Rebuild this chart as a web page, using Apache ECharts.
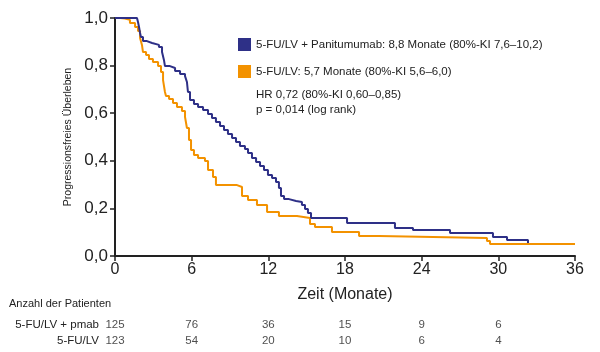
<!DOCTYPE html>
<html>
<head>
<meta charset="utf-8" />
<title>PFS</title>
<script src="https://cdn.jsdelivr.net/npm/echarts@6/dist/echarts.min.js"></script>
<style>
  html, body { margin: 0; padding: 0; background: #fff; }
</style>
</head>
<body>
<div id="main" style="width: 600px;height:352px;"></div>
<script type="text/javascript">
// Kaplan-Meier Stufen: [Monat, Überlebensrate nach dem Schritt]
var pmabSteps = [
  [0, 1.0], [1.72, 0.994], [1.80, 0.983], [1.88, 0.962], [1.96, 0.937], [2.03, 0.920],
  [2.19, 0.903], [2.50, 0.895], [2.90, 0.887], [3.44, 0.878], [3.68, 0.857], [3.83, 0.824],
  [3.91, 0.798], [4.30, 0.790], [4.70, 0.777], [5.09, 0.765], [5.48, 0.756], [5.63, 0.731],
  [5.71, 0.689], [5.87, 0.655], [6.18, 0.639], [6.50, 0.626], [6.89, 0.613], [7.28, 0.597],
  [7.59, 0.580], [7.90, 0.563], [8.22, 0.546], [8.53, 0.529], [8.84, 0.513], [9.16, 0.496],
  [9.47, 0.479], [9.78, 0.462], [10.17, 0.450], [10.41, 0.433], [10.72, 0.412], [11.04, 0.395],
  [11.35, 0.378], [11.66, 0.361], [11.97, 0.340], [12.29, 0.328], [12.60, 0.311], [12.83, 0.286],
  [12.99, 0.252], [13.23, 0.239], [13.62, 0.231], [14.17, 0.227], [14.63, 0.214], [14.87, 0.197],
  [15.10, 0.181], [15.34, 0.160], [18.16, 0.139], [21.91, 0.118], [23.32, 0.109], [26.22, 0.097],
  [29.58, 0.080], [30.68, 0.067], [32.32, 0.067], [32.32, 0.055]
];
var fuSteps = [
  [0, 1.0], [0.39, 0.998], [0.78, 0.992], [1.17, 0.979], [1.57, 0.962], [1.80, 0.945],
  [1.96, 0.916], [2.11, 0.887], [2.19, 0.857], [2.43, 0.845], [2.66, 0.828], [2.97, 0.815],
  [3.37, 0.798], [3.60, 0.773], [3.76, 0.739], [3.91, 0.689], [3.99, 0.672], [4.23, 0.660],
  [4.54, 0.643], [4.85, 0.626], [5.24, 0.609], [5.48, 0.584], [5.63, 0.538], [5.79, 0.487],
  [5.95, 0.445], [6.18, 0.424], [6.50, 0.412], [7.04, 0.399], [7.28, 0.361], [7.67, 0.332],
  [7.90, 0.298], [9.55, 0.290], [9.94, 0.252], [10.41, 0.235], [11.11, 0.214], [11.90, 0.185],
  [12.83, 0.168], [14.24, 0.160], [15.26, 0.134], [15.65, 0.122], [16.98, 0.101], [19.10, 0.084],
  [20.66, 0.076], [29.11, 0.063], [29.35, 0.050], [36.0, 0.050]
];

var seriesNames = [
  '5-FU/LV + Panitumumab: 8,8 Monate (80%-KI 7,6\u201310,2)',
  '5-FU/LV: 5,7 Monate (80%-KI 5,6\u20136,0)'
];
var colors = ['#2e3087', '#f39200'];

// Anzahl der Patienten unter Risiko
var riskMonths = [0, 6, 12, 18, 24, 30];
var riskRows = ['5-FU/LV', '5-FU/LV + pmab'];
var riskPmab = [125, 76, 36, 15, 9, 6];
var riskFu = [123, 54, 20, 10, 6, 4];

var font = '"Liberation Sans", Arial, sans-serif';
var axisColor = '#222';
var txt = '#222';

function riskData(vals, row) {
  return vals.map(function (v, i) { return { value: [riskMonths[i], row], label: { formatter: String(v) } }; });
}

var myChart = echarts.init(document.getElementById('main'));
var option = {
  animation: false,
  textStyle: { fontFamily: font },
  legend: {
    data: seriesNames,
    orient: 'vertical',
    left: 233,
    top: 33,
    icon: 'rect',
    itemWidth: 13,
    itemHeight: 13,
    itemGap: 14,
    textStyle: { fontFamily: font, fontSize: 11.5, color: txt }
  },
  graphic: [
    { type: 'text', left: 256, top: 87, style: { text: 'HR 0,72 (80%-KI 0,60\u20130,85)\np = 0,014 (log rank)', font: '11.5px ' + font, fill: txt, lineHeight: 15 } },
    { type: 'text', left: 9, top: 298, style: { text: 'Anzahl der Patienten', font: '11px ' + font, fill: txt } }
  ],
  grid: [
    { left: 115, right: 25, top: 18, bottom: 96 },
    { left: 115, right: 25, top: 317, height: 32 }
  ],
  xAxis: [
    {
      gridIndex: 0, type: 'value', min: 0, max: 36, interval: 6,
      name: 'Zeit (Monate)', nameLocation: 'middle', nameGap: 31,
      nameTextStyle: { fontSize: 16, color: txt, fontFamily: font },
      axisLine: { lineStyle: { color: axisColor, width: 2 } },
      axisTick: { length: 5, lineStyle: { color: axisColor, width: 1.5 } },
      axisLabel: { fontSize: 16, color: txt, margin: 6 },
      splitLine: { show: false }
    },
    {
      gridIndex: 1, type: 'value', min: 0, max: 36, show: false
    }
  ],
  yAxis: [
    {
      gridIndex: 0, type: 'value', min: 0, max: 1, interval: 0.2,
      name: 'Progressionsfreies \u00dcberleben', nameLocation: 'middle', nameGap: 39,
      nameTextStyle: { fontSize: 10.5, color: txt, fontFamily: font },
      axisLine: { show: true, lineStyle: { color: axisColor, width: 2 } },
      axisTick: { show: true, length: 5, lineStyle: { color: axisColor, width: 1.5 } },
      axisLabel: { fontSize: 17, color: txt, margin: 7,
        formatter: function (v) { return v.toFixed(1).replace('.', ','); } },
      splitLine: { show: false }
    },
    {
      gridIndex: 1, type: 'category', data: riskRows,
      axisLine: { show: false }, axisTick: { show: false },
      axisLabel: { fontSize: 11.5, color: txt, margin: 16 }
    }
  ],
  series: [
    {
      name: seriesNames[0], type: 'line', step: 'end', data: pmabSteps,
      xAxisIndex: 0, yAxisIndex: 0, showSymbol: false,
      lineStyle: { color: colors[0], width: 2 }, itemStyle: { color: colors[0] }, z: 3
    },
    {
      name: seriesNames[1], type: 'line', step: 'end', data: fuSteps,
      xAxisIndex: 0, yAxisIndex: 0, showSymbol: false,
      lineStyle: { color: colors[1], width: 2 }, itemStyle: { color: colors[1] }, z: 2
    },
    {
      type: 'scatter', xAxisIndex: 1, yAxisIndex: 1, symbolSize: 0,
      data: riskData(riskPmab, riskRows[1]),
      label: { show: true, position: 'inside', fontSize: 11.5, color: txt, fontFamily: font }
    },
    {
      type: 'scatter', xAxisIndex: 1, yAxisIndex: 1, symbolSize: 0,
      data: riskData(riskFu, riskRows[0]),
      label: { show: true, position: 'inside', fontSize: 11.5, color: txt, fontFamily: font }
    }
  ]
};
myChart.setOption(option);
</script>
</body>
</html>
